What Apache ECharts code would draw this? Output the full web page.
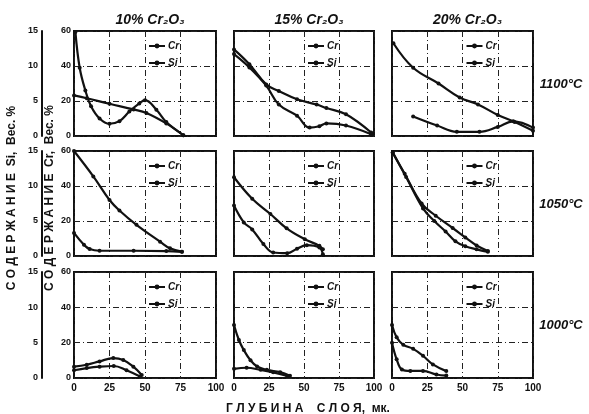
<!DOCTYPE html>
<html><head><meta charset="utf-8">
<script src="https://cdn.jsdelivr.net/npm/echarts@6/dist/echarts.min.js"></script>
<style>html,body{margin:0;padding:0;background:#fff}#c{width:589px;height:414px}</style>
</head><body><div id="c"></div>
<script>
// Column (Cr2O3 content) and row (temperature) labels
const colTitles = ['10% Cr₂O₃', '15% Cr₂O₃', '20% Cr₂O₃'];
const rowTemps = ['1100°C', '1050°C', '1000°C'];
const xTicks = [0, 25, 50, 75, 100];       // depth, μm
const crTicks = [0, 20, 40, 60];           // Cr, wt %
const siTicks = [0, 5, 10, 15];            // Si, wt %

// Data [depth μm, wt %], panel order: row by row (1100, 1050, 1000), columns 10/15/20 %
const cr_1100_10 = [[1,59.4],[4,39],[8,26],[12,17],[18,10],[25,7],[32,8.5],[39,14],[46,18.6],[50,20.5],[58,15],[65,8],[77,0.5]];
const si_1100_10 = [[0,5.8],[9,5.4],[25,4.6],[42,3.8],[51,3.3],[65,1.8],[77,0.1]];
const cr_1100_15 = [[0,49.5],[11,41],[23,29.5],[32,25.7],[45,21],[59,18],[66,16],[80,12.4],[98,2]];
const si_1100_15 = [[0,11.7],[11,9.8],[23,7.2],[32,4.5],[45,2.9],[54,1.2],[61,1.4],[66,1.8],[80,1.5],[98,0.25]];
const cr_1100_20 = [[1,53],[15,39],[33,30],[48,22],[61,18],[75,12],[87,8],[100,3]];
const si_1100_20 = [[15,2.8],[32,1.5],[46,0.6],[62,0.6],[75,1.3],[86,2.1],[100,1.2]];
const cr_1050_10 = [[0,60],[13.6,45.5],[25,32],[32,26],[44,17.8],[60.6,8.2],[67.6,4.4],[76,2.5]];
const si_1050_10 = [[0,3.3],[7,1.6],[11,1.0],[18,0.75],[42,0.75],[65,0.7],[76,0.6]];
const cr_1050_15 = [[0,45],[13,32.7],[26,24],[37.6,15.8],[50.6,9.6],[61,5.8],[63.5,3.8]];
const si_1050_15 = [[0,7.2],[7,4.8],[13,3.8],[21,1.7],[28,0.5],[38,0.4],[45,1.05],[52,1.55],[61,1.2],[63.5,0.25]];
const cr_1050_20 = [[0.5,59],[9,47],[21,30],[31,23],[43,16],[52,10.6],[60,6],[68,2.9]];
const si_1050_20 = [[0.5,14.8],[10,11.3],[22,6.8],[30,5],[38,3.5],[45,2.1],[52,1.4],[60,0.95],[68,0.6]];
const cr_1000_10 = [[0,6.4],[9,7.5],[18,9.4],[27.7,11.3],[34.7,10.2],[41.8,6.4],[47.7,1.7]];
const si_1000_10 = [[0,1.1],[9,1.4],[18,1.6],[28,1.7],[37,1.1],[46.5,0.2]];
const cr_1000_15 = [[0,30],[3.5,21.5],[7,15.8],[11.8,10],[16.5,6.5],[23.5,4.6],[33,3.3],[40,1.3]];
const si_1000_15 = [[0,1.3],[9,1.45],[19,1.15],[28,0.8],[38,0.3]];
const cr_1000_20 = [[0,30],[3.3,23],[8,18.8],[15,16.5],[22,12.6],[29,7.7],[38.5,3.9]];
const si_1000_20 = [[0,5],[3.3,2.65],[7,1.2],[13,1],[22,1],[31.5,0.5],[38.5,0.35]];

const crData = [cr_1100_10, cr_1100_15, cr_1100_20, cr_1050_10, cr_1050_15, cr_1050_20, cr_1000_10, cr_1000_15, cr_1000_20];
const siData = [si_1100_10, si_1100_15, si_1100_20, si_1050_10, si_1050_15, si_1050_20, si_1000_10, si_1000_15, si_1000_20];

const colLeft = [74, 234, 392], colW = [142, 140, 141];
const rowTop = [31, 151, 272], rowH = [105, 105, 106];
const FONT = 'Liberation Sans';
const ink = '#111';
const gridDash = {color: '#222', type: [6, 3, 1, 3], width: 1};

const grid = [], xAxis = [], yAxis = [], series = [], legend = [];
for (let r = 0; r < 3; r++) {
  for (let c = 0; c < 3; c++) {
    const i = r * 3 + c;
    grid.push({left: colLeft[c], top: rowTop[r], width: colW[c], height: rowH[r],
      show: true, borderColor: ink, borderWidth: 2, backgroundColor: 'transparent'});
    xAxis.push({type: 'value', gridIndex: i, min: xTicks[0], max: xTicks[xTicks.length-1], interval: xTicks[1] - xTicks[0],
      axisLine: {show: false}, axisTick: {show: false},
      axisLabel: {show: r === 2, color: ink, fontFamily: FONT, fontWeight: 'bold', fontSize: 10, margin: 5},
      splitLine: {show: true, lineStyle: gridDash}});
    yAxis.push({type: 'value', gridIndex: i, min: crTicks[0], max: crTicks[crTicks.length-1], interval: crTicks[1] - crTicks[0],
      axisLine: {show: false}, axisTick: {show: false},
      axisLabel: {show: c === 0, color: ink, fontFamily: FONT, fontWeight: 'bold', fontSize: 9, margin: 3},
      splitLine: {show: true, lineStyle: gridDash}});
    yAxis.push({type: 'value', gridIndex: i, min: siTicks[0], max: siTicks[siTicks.length-1], interval: siTicks[1] - siTicks[0],
      position: 'left', offset: 32, show: c === 0,
      axisLine: {show: true, lineStyle: {color: ink, width: 2}}, axisTick: {show: false},
      axisLabel: {show: true, color: ink, fontFamily: FONT, fontWeight: 'bold', fontSize: 9, margin: 4},
      splitLine: {show: false}});
    const common = {type: 'line', smooth: 0.4, symbol: 'circle', symbolSize: 4,
      lineStyle: {color: ink, width: 2.2}, itemStyle: {color: ink}, xAxisIndex: i, z: 3};
    series.push(Object.assign({name: 'Cr', yAxisIndex: 2*i, data: crData[i]}, common));
    series.push(Object.assign({name: 'Si', yAxisIndex: 2*i + 1, data: siData[i]}, common));
    legend.push({data: ['Cr', 'Si'], orient: 'vertical', left: colLeft[c] + colW[c]/2 - 2, top: rowTop[r] + 5,
      itemWidth: 16, itemHeight: 6, itemGap: 7, selectedMode: false,
      textStyle: {color: ink, fontFamily: FONT, fontWeight: 'bold', fontStyle: 'italic', fontSize: 10, padding: [0,0,0,-2]}});
  }
}

const title = [];
colTitles.forEach((t, c) => title.push({text: t, left: colLeft[c] + colW[c]/2, top: 8, textAlign: 'center',
  textStyle: {color: ink, fontFamily: FONT, fontWeight: 'bold', fontStyle: 'italic', fontSize: 14}}));
rowTemps.forEach((t, r) => title.push({text: t, left: 556, top: rowTop[r] + rowH[r]/2 - 11, textAlign: 'center',
  textStyle: {color: ink, fontFamily: FONT, fontWeight: 'bold', fontStyle: 'italic', fontSize: 13}}));
title.push({text: 'Г Л У Б И Н А    С Л О Я,  мк.', left: 303, top: 398, textAlign: 'center',
  textStyle: {color: ink, fontFamily: FONT, fontWeight: 'bold', fontSize: 12}});

const graphic = [
  {type: 'text', rotation: Math.PI/2, x: 12, y: 198,
   style: {text: 'С О Д Е Р Ж А Н И Е  Si,  Вес. %', fill: ink, font: 'bold 12px "Liberation Sans"', align: 'center', verticalAlign: 'middle'}},
  {type: 'text', rotation: Math.PI/2, x: 50, y: 198,
   style: {text: 'С О Д Е Р Ж А Н И Е  Cr,  Вес. %', fill: ink, font: 'bold 12px "Liberation Sans"', align: 'center', verticalAlign: 'middle'}}
];

const chart = echarts.init(document.getElementById('c'), null, {renderer: 'canvas'});
chart.setOption({backgroundColor: '#fff', animation: false, title, grid, xAxis, yAxis, series, legend, graphic});
</script></body></html>
